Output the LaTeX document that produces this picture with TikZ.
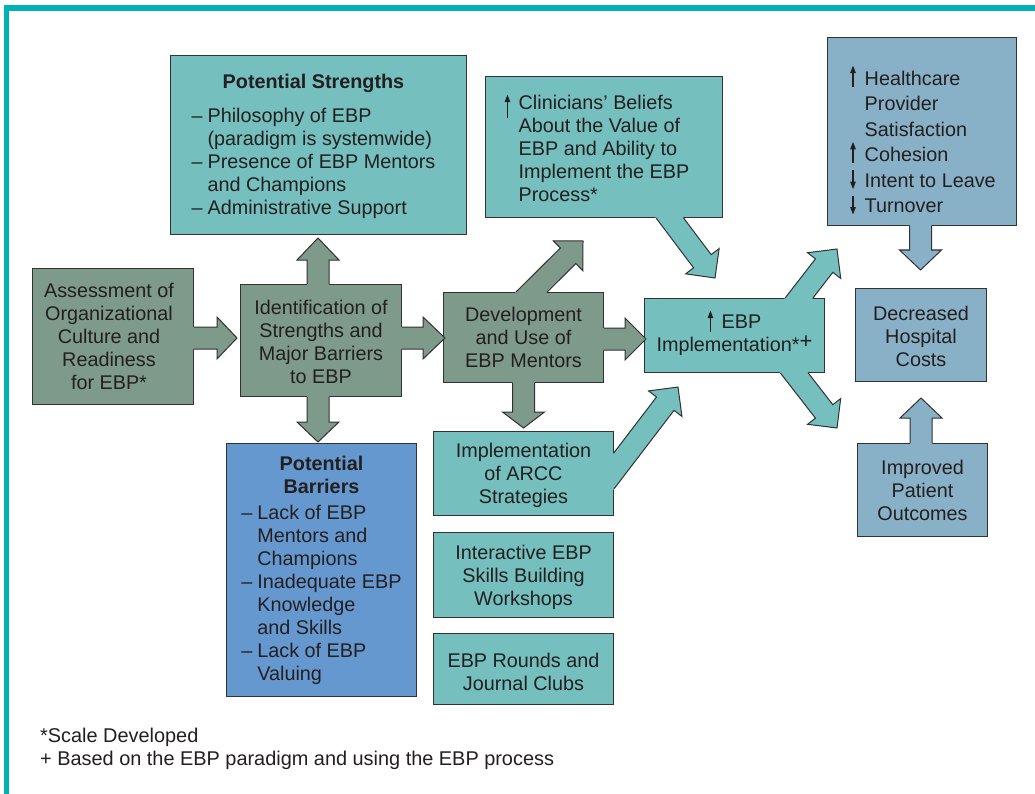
\documentclass[tikz,border=0pt]{standalone}
\usepackage{fontspec}
\setmainfont{Liberation Sans}
\usetikzlibrary{arrows.meta,calc}

\definecolor{frameteal}{RGB}{0,178,184}
\definecolor{sage}{RGB}{126,154,138}
\definecolor{tealbox}{RGB}{117,191,191}
\definecolor{barrierblue}{RGB}{102,152,208}
\definecolor{steel}{RGB}{136,176,198}
\definecolor{ink}{RGB}{35,31,32}
\definecolor{edgegray}{RGB}{50,50,50}

\newcommand{\boxfont}{\fontsize{19.8}{23}\selectfont}
% small up / down arrows set inside the text
\newcommand{\txtarrow}[2]{\smash{\tikz[baseline=0pt,x=1pt,y=1pt]\draw[ink,line width=1.3pt,-{Triangle[length=7.5pt,width=5.4pt]}] (0,#1) -- (0,#2);}}
% shift a block of text by (#1 right, #2 up) without changing its size;
% every box text sits 2.5pt below the geometric centre
\newcommand{\nudge}[3]{\raisebox{\dimexpr#2-2.5pt\relax}[\height][\depth]{\kern#1\relax#3\kern-#1\relax}}
% fat block arrow: [head length]{fill}{tail inside box}{tip}{box side start}{box side end}
\newcommand{\blockarrow}[6][21]{%
  \coordinate (bat) at (#3);
  \coordinate (bap) at (#4);
  \coordinate (bah) at ($(bap)!#1pt!(bat)$);
  \coordinate (ba1) at ($(bat)!11pt!90:(bap)$);
  \coordinate (ba2) at ($(bah)!11pt!90:(bap)$);
  \coordinate (ba3) at ($(bah)!21pt!90:(bap)$);
  \coordinate (ba5) at ($(bah)!21pt!-90:(bap)$);
  \coordinate (ba6) at ($(bah)!11pt!-90:(bap)$);
  \coordinate (ba7) at ($(bat)!11pt!-90:(bap)$);
  \coordinate (bae) at (#5);
  \coordinate (baf) at (#6);
  \coordinate (bas) at (intersection of ba1--ba2 and bae--baf);
  \coordinate (baz) at (intersection of ba7--ba6 and bae--baf);
  \fill[#2] (ba1) -- (ba2) -- (ba3) -- (bap) -- (ba5) -- (ba6) -- (ba7) -- cycle;
  \draw[arrowline] (bas) -- (ba2) -- (ba3) -- (bap) -- (ba5) -- (ba6) -- (baz);
}

\begin{document}
\begin{tikzpicture}[x=1pt,y=-1pt,
  box/.style={draw=edgegray, line width=1pt, inner sep=0pt, anchor=north west,
              text=ink, font=\boxfont},
  arrowline/.style={draw=edgegray, line width=1pt},
  note/.style={text=ink, font=\fontsize{19.9}{23}\selectfont, inner sep=0pt, anchor=base west}]

\useasboundingbox (0,0) rectangle (1035,794);
\fill[white] (0,0) rectangle (1035,794);
% frame
\draw[frameteal, line width=5.5pt] (6.7,800) -- (6.7,7.8) -- (1040,7.8);

% boxes
\node[box, fill=sage, minimum width=161pt, minimum height=136pt] (assess) at (32,268)
  {\nudge{-4pt}{0pt}{\begin{tabular}{@{}c@{}}Assessment of\\Organizational\\Culture and\\Readiness\\for EBP*\end{tabular}}};
\node[box, fill=sage, minimum width=161pt, minimum height=112pt] (ident) at (240,284)
  {\nudge{0pt}{-1pt}{\begin{tabular}{@{}c@{}}Identification of\\Strengths and\\Major Barriers\\to EBP\end{tabular}}};
\node[box, fill=tealbox, minimum width=296pt, minimum height=179pt] (strength) at (170,55)
  {\nudge{-5pt}{1pt}{\begin{tabular}{@{}l@{\hspace{5pt}}l@{}}
    \multicolumn{2}{c}{\bfseries Potential Strengths}\\[11pt]
    –&Philosophy of EBP\\
     &(paradigm is systemwide)\\
    –&Presence of EBP Mentors\\
     &and Champions\\
    –&Administrative Support
  \end{tabular}}};
\node[box, fill=barrierblue, minimum width=190pt, minimum height=253pt] (barrier) at (226,443)
  {\nudge{0pt}{2pt}{\begin{tabular}{@{}l@{\hspace{5pt}}l@{}}
    \multicolumn{2}{c}{\bfseries Potential}\\
    \multicolumn{2}{c}{\bfseries Barriers}\\[3pt]
    –&Lack of EBP\\
     &Mentors and\\
     &Champions\\
    –&Inadequate EBP\\
     &Knowledge\\
     &and Skills\\
    –&Lack of EBP\\
     &Valuing
  \end{tabular}}};
\node[box, fill=sage, minimum width=160pt, minimum height=90pt] (dev) at (443,292)
  {\nudge{0pt}{0pt}{\begin{tabular}{@{}c@{}}Development\\and Use of\\EBP Mentors\end{tabular}}};
\node[box, fill=tealbox, minimum width=180pt, minimum height=84pt] (arcc) at (433,431)
  {\nudge{0pt}{0pt}{\begin{tabular}{@{}c@{}}Implementation\\of ARCC\\Strategies\end{tabular}}};
\node[box, fill=tealbox, minimum width=180pt, minimum height=85pt] (workshop) at (433,532)
  {\nudge{0pt}{0pt}{\begin{tabular}{@{}c@{}}Interactive EBP\\Skills Building\\Workshops\end{tabular}}};
\node[box, fill=tealbox, minimum width=180pt, minimum height=71pt] (rounds) at (433,633)
  {\nudge{0pt}{-3pt}{\begin{tabular}{@{}c@{}}EBP Rounds and\\Journal Clubs\end{tabular}}};
\node[box, fill=tealbox, minimum width=237pt, minimum height=141pt] (belief) at (485,76)
  {\nudge{-7pt}{-1.5pt}{\begin{tabular}{@{}c@{\hspace{8.5pt}}l@{}}
    \txtarrow{-8}{15}&Clinicians’ Beliefs\\
     &About the Value of\\
     &EBP and Ability to\\
     &Implement the EBP\\
     &Process*
  \end{tabular}}};
\node[box, fill=tealbox, minimum width=180pt, minimum height=74pt] (ebp) at (644,298)
  {\nudge{0pt}{2.5pt}{\begin{tabular}{@{}c@{}}\txtarrow{-3}{18}\hspace{8.5pt}EBP\\Implementation*\raisebox{3.5pt}{\fontsize{22}{23}\selectfont+}\end{tabular}}};
\node[box, fill=steel, minimum width=189pt, minimum height=188pt] (health) at (827,37)
  {\nudge{1pt}{-10pt}{\fontsize{19.8}{25.4}\selectfont\begin{tabular}{@{}c@{\hspace{9pt}}l@{}}
    \txtarrow{-1}{20}&Healthcare\\
     &Provider\\
     &Satisfaction\\
    \txtarrow{-1}{20}&Cohesion\\
    \txtarrow{17}{-2}&Intent to Leave\\
    \txtarrow{17}{-2}&Turnover
  \end{tabular}}};
\node[box, fill=steel, minimum width=131pt, minimum height=93pt] (cost) at (855,288)
  {\nudge{0pt}{-1.5pt}{\begin{tabular}{@{}c@{}}Decreased\\Hospital\\Costs\end{tabular}}};
\node[box, fill=steel, minimum width=130pt, minimum height=93pt] (patient) at (857,443)
  {\nudge{0pt}{0pt}{\begin{tabular}{@{}c@{}}Improved\\Patient\\Outcomes\end{tabular}}};

% ends of the block arrows
\coordinate (assess-out) at (191,338);   \coordinate (ident-in)   at (237,338);
\coordinate (ident-out)  at (399,338);   \coordinate (dev-in)     at (445,338);
\coordinate (ident-up)   at (318,286);   \coordinate (strength-in) at (318,238);
\coordinate (ident-down) at (318,394);   \coordinate (barrier-in) at (318,442);
\coordinate (dev-out)    at (601,339);   \coordinate (ebp-in)     at (646,339);
\coordinate (dev-down)   at (523.5,380); \coordinate (arcc-in)    at (523.5,428);
\coordinate (dev-up)     at (521.6,301.8); \coordinate (dev-tip)  at (583,241);
\coordinate (belief-out) at (661.8,207.4); \coordinate (belief-tip) at (715,278);
\coordinate (arcc-out)   at (602.1,486.3); \coordinate (arcc-tip) at (678,387);
\coordinate (ebp-upout)  at (791.6,307.5); \coordinate (ebp-uptip) at (837,249);
\coordinate (ebp-dnout)  at (786.1,362.5); \coordinate (ebp-dntip) at (837,428);
\coordinate (health-out) at (920.5,223); \coordinate (cost-top)   at (920.5,270);
\coordinate (patient-out) at (921,445);  \coordinate (cost-bottom) at (921,398);

% block arrows
\blockarrow[20]{sage}{assess-out}{ident-in}{assess.north east}{assess.south east}
\blockarrow[22]{sage}{ident-out}{dev-in}{ident.north east}{ident.south east}
\blockarrow[22]{sage}{ident-up}{strength-in}{ident.north west}{ident.north east}
\blockarrow[20]{sage}{ident-down}{barrier-in}{ident.south west}{ident.south east}
\blockarrow[21]{sage}{dev-out}{ebp-in}{dev.north east}{dev.south east}
\blockarrow[16]{sage}{dev-down}{arcc-in}{dev.south west}{dev.south east}
\blockarrow[21]{sage}{dev-up}{dev-tip}{dev.north west}{dev.north east}
\blockarrow[21]{tealbox}{belief-out}{belief-tip}{belief.south west}{belief.south east}
\blockarrow[21]{tealbox}{arcc-out}{arcc-tip}{arcc.north east}{arcc.south east}
\blockarrow[21]{tealbox}{ebp-upout}{ebp-uptip}{ebp.north west}{ebp.north east}
\blockarrow[21]{tealbox}{ebp-dnout}{ebp-dntip}{ebp.south west}{ebp.south east}
\blockarrow[20]{steel}{health-out}{cost-top}{health.south west}{health.south east}
\blockarrow[20]{steel}{patient-out}{cost-bottom}{patient.north west}{patient.north east}

% footnotes
\node[note] (fn1) at (40,742) {*Scale Developed};
\node[note] (fn2) at (40,765) {+ Based on the EBP paradigm and using the EBP process};
\end{tikzpicture}
\end{document}
